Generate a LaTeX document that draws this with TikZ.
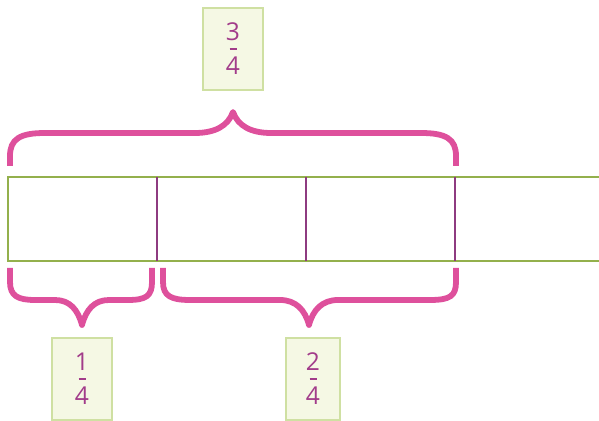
\documentclass[tikz,border=0pt]{standalone}
\usepackage{fontspec}
\setsansfont{Open Sans}
\usetikzlibrary{positioning,calc}
\definecolor{bPink}{HTML}{DE509C}
\definecolor{bPurple}{HTML}{8E3B80}
\definecolor{bGreen}{HTML}{93B04C}
\definecolor{bText}{HTML}{A23C8A}
\definecolor{lGreen}{HTML}{CFE0A2}
\definecolor{lFill}{HTML}{F5F8E4}
\tikzset{
  barline/.style={bGreen,line width=1.1pt},
  divline/.style={bPurple,line width=1.4pt},
  brace/.style={bPink,line width=3.3pt,line join=round},
  fracbox/.style={rectangle,draw=lGreen,fill=lFill,line width=0.8pt,text=bText,align=center,
    font=\sffamily\fontsize{14}{19.3}\selectfont,minimum width=1.2cm,minimum height=1.64cm,inner sep=0pt},
  fracbar/.style={bText,line width=0.6pt},
}
\begin{document}
\begin{tikzpicture}[x=0.02cm,y=-0.02cm]
  \useasboundingbox (0,0) rectangle (599,421);
  % ---- bar ----
  \draw[barline] (8,177) rectangle (606,261);
  \foreach \d in {157,306,455}
    \draw[divline] (\d,177) -- (\d,261);

  % ---- braces ----
  \draw[brace] (10,166) -- (10,156) .. controls (10,139) and (20,133) .. (45,133) -- (195,133)
    .. controls (215,133) and (228,126) .. (233,112) .. controls (238,126) and (251,133) .. (271,133)
    -- (421,133) .. controls (446,133) and (456,139) .. (456,156) -- (456,166);
  \draw[brace] (10,268) -- (10,282) .. controls (10,296) and (18,300) .. (35,300) -- (55,300)
    .. controls (70,300) and (78,310) .. (82,325) .. controls (86,310) and (94,300) .. (109,300)
    -- (128,300) .. controls (146,300) and (152,296) .. (152,282) -- (152,268);
  \draw[brace] (163,268) -- (163,282) .. controls (163,296) and (171,300) .. (190,300) -- (280,300)
    .. controls (296,300) and (305,310) .. (309,325) .. controls (313,310) and (322,300) .. (338,300)
    -- (430,300) .. controls (450,300) and (456,296) .. (456,282) -- (456,268);

  % ---- labels ----
  \node[fracbox] (top) at (233,49) {3\\4};
  \node[fracbox] (one) at (82,379) {1\\4};
  \node[fracbox,minimum width=1.08cm] (two) at (313,379) {2\\4};
  \foreach \n in {top,one,two}
    \draw[fracbar] ([xshift=-0.07cm]\n.center) -- ([xshift=0.07cm]\n.center);
\end{tikzpicture}
\end{document}
